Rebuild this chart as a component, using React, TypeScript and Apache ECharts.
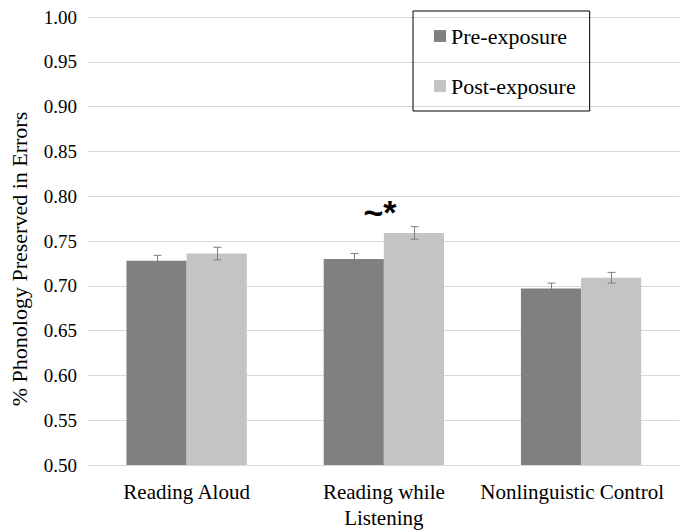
import React, { useEffect, useRef } from "react";
import * as echarts from "echarts";

const categories = ["Reading Aloud", "Reading while\nListening", "Nonlinguistic Control"];
const seriesNames = ["Pre-exposure", "Post-exposure"];
const preExposure = [0.728, 0.730, 0.697];
const postExposure = [0.736, 0.759, 0.709];
const preError = [0.006, 0.006, 0.006];
const postError = [0.007, 0.007, 0.006];
const yMin = 0.5;
const yMax = 1.0;
const yInterval = 0.05;
const yTitle = "% Phonology Preserved in Errors";
const annotation = "~*";
const annotatedIndex = 1;

const SERIF = "Liberation Serif";
const PRE_COLOR = "#808080";
const POST_COLOR = "#c4c4c4";

export default function App() {
  const ref = useRef<HTMLDivElement>(null);
  useEffect(() => {
    document.body.style.margin = "0";
    if (!ref.current) return;
    const chart = echarts.init(ref.current, null, { renderer: "svg" });

    const errRender = (offsetFrac: number) => (params: any, api: any) => {
      const idx = api.value(0);
      const val = api.value(1);
      const err = api.value(2);
      const band = api.size([1, 0])[0];
      const c = api.coord([idx, val]);
      const x = Math.round(c[0] + band * offsetFrac) + 0.5;
      const top = api.coord([idx, val + err])[1];
      const bot = api.coord([idx, val - err])[1];
      const style = { stroke: "#7f7f7f", lineWidth: 1 };
      return {
        type: "group",
        children: [
          { type: "line", shape: { x1: x, y1: top, x2: x, y2: bot }, style },
          { type: "line", shape: { x1: x - 4, y1: top, x2: x + 4, y2: top }, style },
          { type: "line", shape: { x1: x - 4, y1: bot, x2: x + 4, y2: bot }, style },
        ],
      };
    };

    const xData = categories.map((c, i) =>
      i === categories.length - 1
        ? { value: c, textStyle: { padding: [0, 18, 0, 0] } }
        : c
    );

    chart.setOption({
      animation: false,
      textStyle: { fontFamily: SERIF },
      grid: { left: 86.5, right: 0, top: 17, bottom: 531 - 467.3 },
      legend: {
        orient: "vertical",
        left: 413,
        top: 11,
        padding: [13, 14, 13, 21],
        borderColor: "#000",
        borderWidth: 1,
        itemWidth: 12,
        itemHeight: 12,
        itemGap: 26,
        itemTextGap: 4,
        icon: "rect",
        data: seriesNames,
        textStyle: { fontFamily: SERIF, fontSize: 22, color: "#000", lineHeight: 24 },
      },
      xAxis: {
        type: "category",
        data: xData,
        axisLine: { show: false },
        axisTick: { show: false },
        axisLabel: {
          fontFamily: SERIF,
          fontSize: 21,
          color: "#000",
          lineHeight: 26,
          margin: 14,
          interval: 0,
        },
      },
      yAxis: {
        type: "value",
        min: yMin,
        max: yMax,
        interval: yInterval,
        name: yTitle,
        nameLocation: "middle",
        nameGap: 58,
        nameTextStyle: {
          fontFamily: SERIF,
          fontSize: 22,
          color: "#000",
          padding: [0, 36, 0, 0],
        },
        axisLine: { show: false },
        axisTick: { show: false },
        splitLine: { show: true, lineStyle: { color: "#d9d9d9", width: 1 } },
        axisLabel: {
          fontFamily: SERIF,
          fontSize: 19,
          color: "#000",
          margin: 11,
          formatter: (v: number) => v.toFixed(2),
        },
      },
      series: [
        {
          name: seriesNames[0],
          type: "bar",
          data: preExposure,
          barGap: "0%",
          barCategoryGap: "39%",
          itemStyle: { color: PRE_COLOR },
          z: 2,
        },
        {
          name: seriesNames[1],
          type: "bar",
          data: postExposure.map((v, i) =>
            i === annotatedIndex
              ? {
                  value: v,
                  label: {
                    show: true,
                    formatter: annotation,
                    position: "top",
                    distance: 4,
                    offset: [-34, 0],
                    fontFamily: "Liberation Sans",
                    fontSize: 34,
                    fontWeight: "bold",
                    color: "#000",
                  },
                }
              : v
          ),
          barGap: "0%",
          barCategoryGap: "39%",
          itemStyle: { color: POST_COLOR },
          z: 2,
        },
        {
          type: "custom",
          data: preExposure.map((v, i) => [i, v, preError[i]]),
          renderItem: errRender(-0.1525),
          z: 5,
          silent: true,
        },
        {
          type: "custom",
          data: postExposure.map((v, i) => [i, v, postError[i]]),
          renderItem: errRender(0.1525),
          z: 5,
          silent: true,
        },
      ],
    });
    return () => chart.dispose();
  }, []);
  return (
    <div
      ref={ref}
      style={{ position: "absolute", left: 0, top: 0, width: 684, height: 531 }}
    />
  );
}
